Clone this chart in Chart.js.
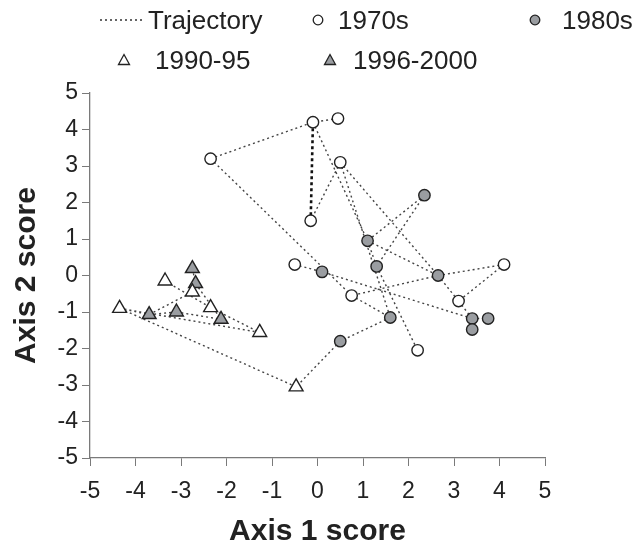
<!DOCTYPE html>
<html>
<head>
<meta charset="utf-8">
<script src="https://cdn.jsdelivr.net/npm/chart.js@4"></script>
<style>
  body { margin: 0; background: #fff; }
  #wrap { position: relative; width: 639px; height: 550px; }
  #chart { position: absolute; left: 0; top: 0; }
  .lg { position: absolute; font-family: 'Liberation Sans', Arial, sans-serif; font-size: 26px; line-height: 30px; color: #222; white-space: nowrap; }
  .mk { position: absolute; }
</style>
</head>
<body>
<div id="wrap">
  <canvas id="chart" width="639" height="550"></canvas>

  <svg class="mk" style="left:100px;top:14px" width="44" height="12"><line x1="0" y1="6" x2="44" y2="6" stroke="#333" stroke-width="1.5" stroke-dasharray="2,3"/></svg>
  <div class="lg" style="left:148px;top:5px">Trajectory</div>
  <svg class="mk" style="left:311px;top:13px" width="14" height="14"><circle cx="7" cy="7" r="4.8" fill="#fff" stroke="#222" stroke-width="1.3"/></svg>
  <div class="lg" style="left:338px;top:5px">1970s</div>
  <svg class="mk" style="left:528px;top:13px" width="14" height="14"><circle cx="7" cy="7" r="4.8" fill="#9a9da1" stroke="#222" stroke-width="1.3"/></svg>
  <div class="lg" style="left:562px;top:5px">1980s</div>

  <svg class="mk" style="left:117px;top:53px" width="14" height="14"><polygon points="7,1.5 12.5,11.5 1.5,11.5" fill="#fff" stroke="#222" stroke-width="1.3"/></svg>
  <div class="lg" style="left:155px;top:45px">1990-95</div>
  <svg class="mk" style="left:323px;top:53px" width="14" height="14"><polygon points="7,1.5 12.5,11.5 1.5,11.5" fill="#9a9da1" stroke="#222" stroke-width="1.3"/></svg>
  <div class="lg" style="left:353px;top:45px">1996-2000</div>
</div>

<script>
// ordination scores
const axis1_1970s = [-0.1, 0.45, -2.35, 0.5, -0.15, -0.5, 0.75, 4.1, 3.1, 2.2];
const axis2_1970s = [4.2, 4.3, 3.2, 3.1, 1.5, 0.3, -0.55, 0.3, -0.7, -2.05];

const axis1_1980s = [2.35, 1.1, 0.1, 1.3, 2.65, 1.6, 0.5, 3.4, 3.75, 3.4];
const axis2_1980s = [2.2, 0.95, 0.1, 0.25, 0.0, -1.15, -1.8, -1.18, -1.18, -1.48];

const axis1_1990_95 = [-4.35, -3.35, -2.75, -2.35, -1.27, -0.47];
const axis2_1990_95 = [-0.9, -0.15, -0.45, -0.88, -1.56, -3.05];

const axis1_1996_2000 = [-2.75, -2.68, -3.7, -3.1, -2.12];
const axis2_1996_2000 = [0.19, -0.22, -1.07, -1.0, -1.2];

// trajectory segments, as index pairs into all points in the order above
// (0-9 = 1970s, 10-19 = 1980s, 20-25 = 1990-95, 26-30 = 1996-2000)
const trajectory = [
  [2, 0], [1, 0], [0, 11], [11, 13], [13, 9], [3, 4], [3, 14], [3, 15],
  [11, 14], [10, 11], [10, 13], [5, 12], [2, 6], [12, 17], [14, 7], [7, 8],
  [14, 8], [14, 6], [6, 15], [15, 16], [16, 25], [25, 20], [8, 17],
  [17, 18], [17, 19],
  [20, 28], [20, 24], [28, 29], [29, 30], [28, 22], [21, 23], [23, 24],
  [26, 27], [27, 30]
];
// the bold jump
const boldTrajectory = [[0, 4]];

const axisTicks = [-5, -4, -3, -2, -1, 0, 1, 2, 3, 4, 5];

const toPoints = (xs, ys) => xs.map((x, i) => ({ x: x, y: ys[i] }));

const allPoints = [].concat(
  toPoints(axis1_1970s, axis2_1970s),
  toPoints(axis1_1980s, axis2_1980s),
  toPoints(axis1_1990_95, axis2_1990_95),
  toPoints(axis1_1996_2000, axis2_1996_2000)
);

const segmentData = (pairs) => {
  const out = [];
  pairs.forEach(([a, b]) => {
    out.push(allPoints[a], allPoints[b], { x: null, y: null });
  });
  return out;
};

const grey = '#9a9da1';
const edge = '#222';
const axisColor = '#7a7a7a';
const font = "'Liberation Sans', Arial, sans-serif";

new Chart(document.getElementById('chart').getContext('2d'), {
  type: 'scatter',
  data: {
    datasets: [
      {
        label: '1970s',
        data: toPoints(axis1_1970s, axis2_1970s),
        pointStyle: 'circle', pointRadius: 5.7,
        backgroundColor: '#fff', borderColor: edge, borderWidth: 1.4,
        order: 0,
      },
      {
        label: '1980s',
        data: toPoints(axis1_1980s, axis2_1980s),
        pointStyle: 'circle', pointRadius: 5.7,
        backgroundColor: grey, borderColor: edge, borderWidth: 1.4,
        order: 0,
      },
      {
        label: '1990-95',
        data: toPoints(axis1_1990_95, axis2_1990_95),
        pointStyle: 'triangle', pointRadius: 8,
        backgroundColor: '#fff', borderColor: edge, borderWidth: 1.4,
        order: 0,
      },
      {
        label: '1996-2000',
        data: toPoints(axis1_1996_2000, axis2_1996_2000),
        pointStyle: 'triangle', pointRadius: 8,
        backgroundColor: grey, borderColor: edge, borderWidth: 1.4,
        order: 0,
      },
      {
        label: 'Trajectory',
        data: segmentData(trajectory),
        showLine: true, spanGaps: false,
        borderColor: '#444', borderWidth: 1.4, borderDash: [2, 3],
        pointRadius: 0, pointHoverRadius: 0,
        order: 5,
      },
      {
        label: 'Trajectory (bold)',
        data: segmentData(boldTrajectory),
        showLine: true, spanGaps: false,
        borderColor: '#111', borderWidth: 2.6, borderDash: [3, 3],
        pointRadius: 0, pointHoverRadius: 0,
        order: 5,
      },
    ],
  },
  options: {
    responsive: false,
    animation: false,
    devicePixelRatio: 1,
    layout: { padding: { top: 93, right: 94, left: 0, bottom: 0 } },
    plugins: {
      legend: { display: false },
      tooltip: { enabled: false },
    },
    scales: {
      x: {
        type: 'linear', min: -5, max: 5,
        afterFit: (scale) => { scale.height = 92; },
        afterBuildTicks: (scale) => { scale.ticks = axisTicks.map((v) => ({ value: v })); },
        ticks: { font: { family: font, size: 23 }, color: '#222', padding: 12, maxRotation: 0, autoSkip: false },
        grid: { drawOnChartArea: false, tickLength: 8, color: axisColor },
        border: { color: axisColor, width: 1.3 },
        title: { display: true, text: 'Axis 1 score', color: '#222', font: { family: font, size: 30, weight: 'bold' }, padding: { top: 0, bottom: 0 } },
      },
      y: {
        type: 'linear', min: -5, max: 5,
        afterFit: (scale) => { scale.width = 90; },
        afterBuildTicks: (scale) => { scale.ticks = axisTicks.map((v) => ({ value: v })); },
        ticks: { font: { family: font, size: 23 }, color: '#222', padding: 4, autoSkip: false },
        grid: { drawOnChartArea: false, tickLength: 8, color: axisColor },
        border: { color: axisColor, width: 1.3 },
        title: { display: true, text: 'Axis 2 score', color: '#222', font: { family: font, size: 30, weight: 'bold' }, padding: { top: 9, bottom: 0 } },
      },
    },
  },
});
</script>
</body>
</html>
